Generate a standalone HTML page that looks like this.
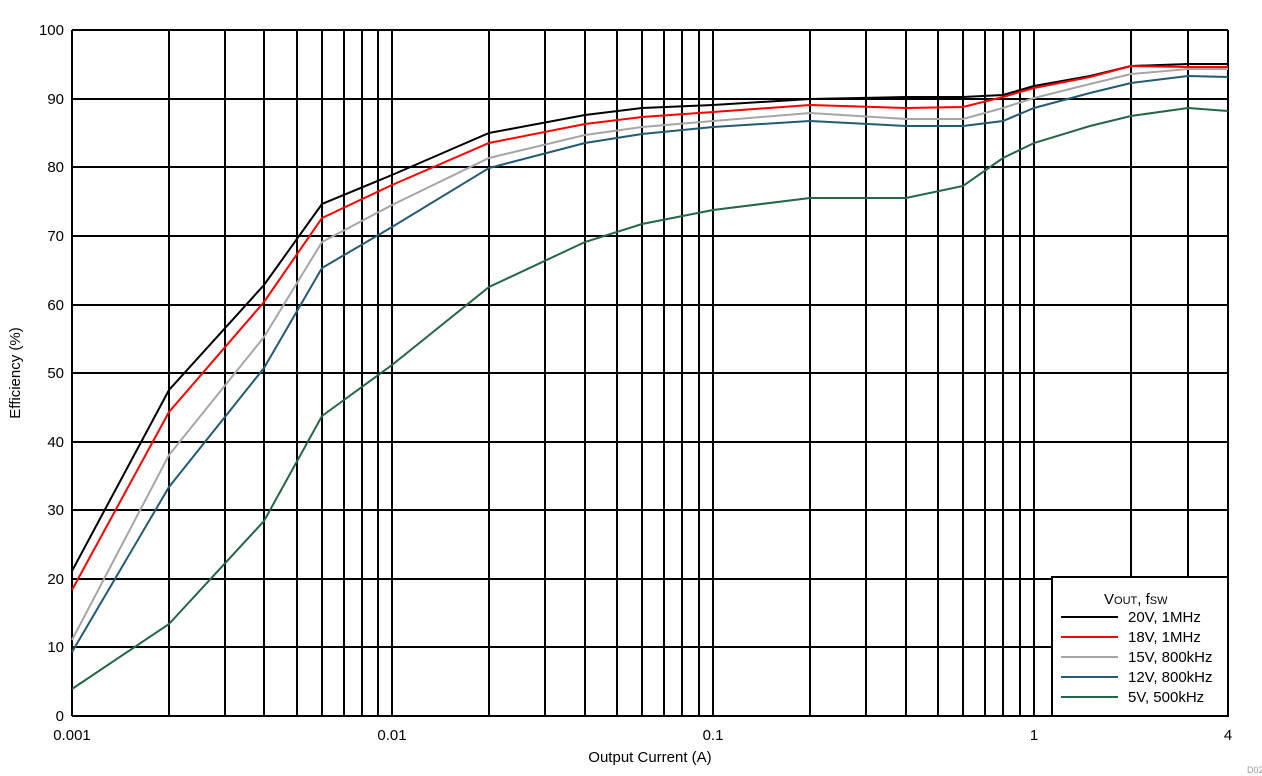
<!DOCTYPE html>
<html><head><meta charset="utf-8"><style>body{margin:0;background:#fff}svg{display:block}</style></head><body>
<svg width="1262" height="776" viewBox="0 0 1262 776" xmlns="http://www.w3.org/2000/svg" font-family="Liberation Sans, sans-serif">
<g stroke="#000" stroke-width="2">
<line x1="72" y1="30" x2="72" y2="716"/><line x1="169" y1="30" x2="169" y2="716"/><line x1="225" y1="30" x2="225" y2="716"/><line x1="264" y1="30" x2="264" y2="716"/><line x1="297" y1="30" x2="297" y2="716"/><line x1="322" y1="30" x2="322" y2="716"/><line x1="344" y1="30" x2="344" y2="716"/><line x1="362" y1="30" x2="362" y2="716"/><line x1="378" y1="30" x2="378" y2="716"/><line x1="392" y1="30" x2="392" y2="716"/>
<line x1="489" y1="30" x2="489" y2="716"/><line x1="545" y1="30" x2="545" y2="716"/><line x1="585" y1="30" x2="585" y2="716"/><line x1="617" y1="30" x2="617" y2="716"/><line x1="642" y1="30" x2="642" y2="716"/><line x1="664" y1="30" x2="664" y2="716"/><line x1="682" y1="30" x2="682" y2="716"/><line x1="699" y1="30" x2="699" y2="716"/><line x1="713" y1="30" x2="713" y2="716"/>
<line x1="810" y1="30" x2="810" y2="716"/><line x1="866" y1="30" x2="866" y2="716"/><line x1="906" y1="30" x2="906" y2="716"/><line x1="938" y1="30" x2="938" y2="716"/><line x1="963" y1="30" x2="963" y2="716"/><line x1="985" y1="30" x2="985" y2="716"/><line x1="1003" y1="30" x2="1003" y2="716"/><line x1="1020" y1="30" x2="1020" y2="716"/><line x1="1034" y1="30" x2="1034" y2="716"/>
<line x1="1131" y1="30" x2="1131" y2="716"/><line x1="1188" y1="30" x2="1188" y2="716"/><line x1="1228" y1="30" x2="1228" y2="716"/>
<line x1="72" y1="30" x2="1228" y2="30"/><line x1="72" y1="99" x2="1228" y2="99"/><line x1="72" y1="167" x2="1228" y2="167"/><line x1="72" y1="236" x2="1228" y2="236"/><line x1="72" y1="305" x2="1228" y2="305"/><line x1="72" y1="373" x2="1228" y2="373"/><line x1="72" y1="442" x2="1228" y2="442"/><line x1="72" y1="510" x2="1228" y2="510"/><line x1="72" y1="579" x2="1228" y2="579"/><line x1="72" y1="647" x2="1228" y2="647"/><line x1="72" y1="716" x2="1228" y2="716"/>
</g>
<g fill="none" stroke-width="2">
<polyline stroke="#000" points="72,571 169,390 264,285 322,204 392,175 489,133 585,115 642,108 713,105 810,99 906,97 963,97 1003,95 1034,86 1090,76 1131,66 1188,64 1228,64"/>
<polyline stroke="#ff0000" points="72,590 169,412 264,302 322,218 392,185 489,143 585,124 642,117 713,112 810,105 906,108 963,107 1003,97 1034,88 1090,77 1131,66 1188,67 1228,67"/>
<polyline stroke="#a6a6a6" points="72,640 169,455 264,337 322,242 392,205 489,158 585,135 642,127 713,121 810,113 906,119 963,119 1003,108 1034,98 1090,84 1131,74 1188,69 1228,69"/>
<polyline stroke="#255a73" points="72,652 169,487 264,368 322,268 392,227 489,168 585,143 642,134 713,127 810,121 906,126 963,126 1003,121 1034,108 1090,93 1131,83 1188,76 1228,77"/>
<polyline stroke="#246646" points="72,689 169,624 264,521 322,416 392,365 489,287 585,242 642,224 713,210 810,198 906,198 963,186 1003,158 1034,143 1090,126 1131,116 1188,108 1228,111"/>
</g>
<rect x="1052" y="577" width="176" height="139" fill="#fff" stroke="#000" stroke-width="2"/>
<g stroke-width="2">
<line x1="1061" y1="617" x2="1118" y2="617" stroke="#000"/>
<line x1="1061" y1="637" x2="1118" y2="637" stroke="#ff0000"/>
<line x1="1061" y1="657" x2="1118" y2="657" stroke="#a6a6a6"/>
<line x1="1061" y1="677" x2="1118" y2="677" stroke="#255a73"/>
<line x1="1061" y1="697" x2="1118" y2="697" stroke="#246646"/>
</g>
<g font-size="15" fill="#000">
<text x="1104" y="604">V<tspan font-size="11">OUT</tspan>, f<tspan font-size="11">SW</tspan></text>
<text x="1128" y="622">20V, 1MHz</text><text x="1128" y="642">18V, 1MHz</text><text x="1128" y="662">15V, 800kHz</text><text x="1128" y="682">12V, 800kHz</text><text x="1128" y="702">5V, 500kHz</text>
</g>
<g font-size="15" text-anchor="end">
<text x="64" y="35">100</text><text x="64" y="104">90</text><text x="64" y="172">80</text><text x="64" y="241">70</text><text x="64" y="310">60</text><text x="64" y="378">50</text><text x="64" y="447">40</text><text x="64" y="515">30</text><text x="64" y="584">20</text><text x="64" y="652">10</text><text x="64" y="721">0</text>
</g>
<g font-size="15" text-anchor="middle">
<text x="72" y="740">0.001</text><text x="392" y="740">0.01</text><text x="713" y="740">0.1</text><text x="1034" y="740">1</text><text x="1228" y="740">4</text>
<text x="650" y="762">Output Current (A)</text>
<text transform="translate(20,373) rotate(-90)">Efficiency (%)</text>
</g>
<text x="1247" y="773" font-size="9" fill="#999">D02</text>
</svg>
</body></html>
